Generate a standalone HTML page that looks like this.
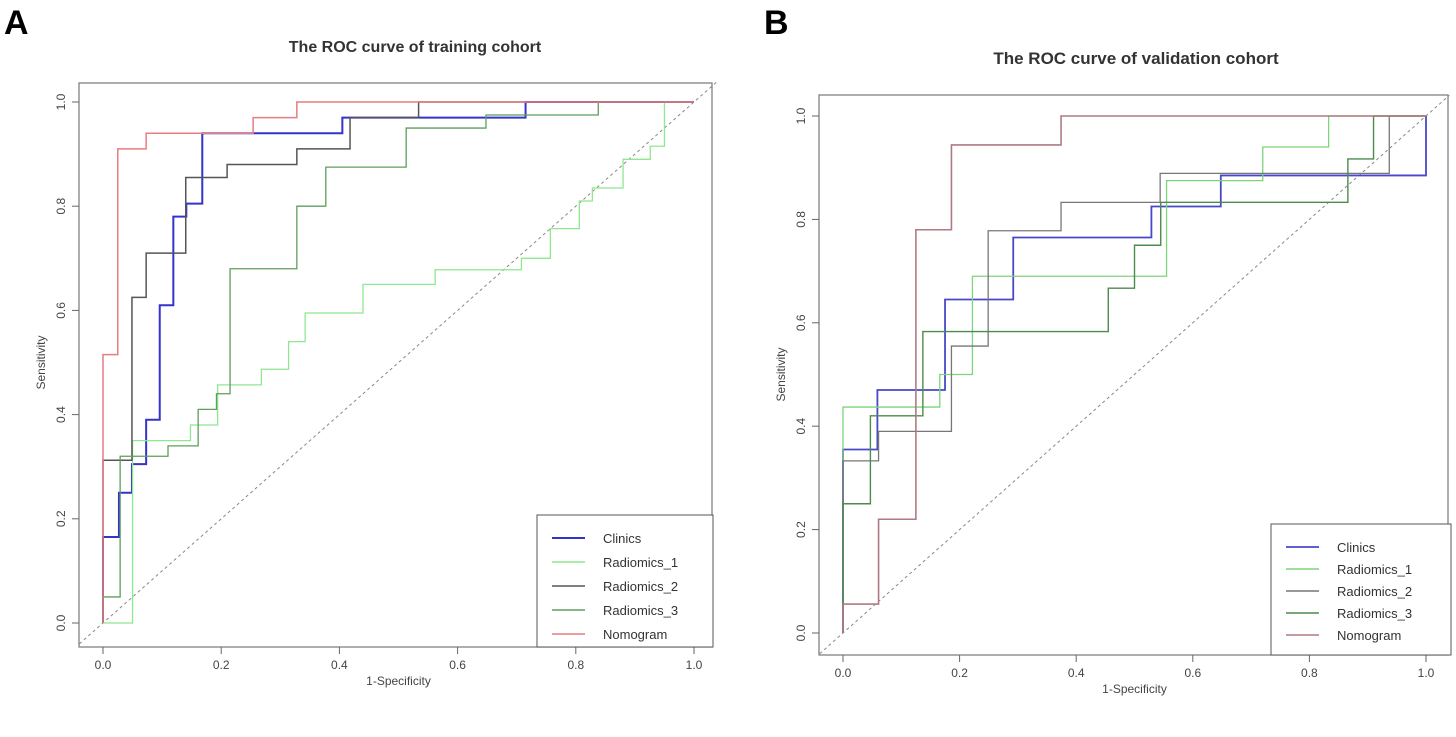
<!DOCTYPE html>
<html><head><meta charset="utf-8"><style>
body{margin:0;background:#fff;width:1456px;height:737px;overflow:hidden;font-family:"Liberation Sans",sans-serif}
svg{position:absolute;left:0;top:0}
</style></head><body>
<svg id="s" width="1456" height="737" font-family="Liberation Sans, sans-serif"></svg>
<script>
// Panel A data (training)
const aClinFpr=[0,0,0.027,0.027,0.049,0.049,0.073,0.073,0.096,0.096,0.119,0.119,0.141,0.141,0.168,0.168,0.405,0.405,0.715,0.715,1];
const aClinTpr=[0,0.165,0.165,0.25,0.25,0.305,0.305,0.39,0.39,0.61,0.61,0.78,0.78,0.805,0.805,0.94,0.94,0.97,0.97,1,1];
const aR1Fpr=[0,0.05,0.05,0.148,0.148,0.194,0.194,0.268,0.268,0.314,0.314,0.342,0.342,0.44,0.44,0.562,0.562,0.708,0.708,0.757,0.757,0.806,0.806,0.828,0.828,0.88,0.88,0.926,0.926,0.95,0.95,1];
const aR1Tpr=[0,0,0.35,0.35,0.38,0.38,0.457,0.457,0.487,0.487,0.54,0.54,0.595,0.595,0.65,0.65,0.678,0.678,0.70,0.70,0.757,0.757,0.81,0.81,0.835,0.835,0.89,0.89,0.915,0.915,1,1];
const aR2Fpr=[0,0,0.049,0.049,0.073,0.073,0.14,0.14,0.21,0.21,0.328,0.328,0.418,0.418,0.534,0.534,1];
const aR2Tpr=[0,0.3125,0.3125,0.625,0.625,0.71,0.71,0.855,0.855,0.88,0.88,0.91,0.91,0.97,0.97,1,1];
const aR3Fpr=[0,0,0.029,0.029,0.11,0.11,0.161,0.161,0.192,0.192,0.215,0.215,0.328,0.328,0.377,0.377,0.513,0.513,0.648,0.648,0.838,0.838,1];
const aR3Tpr=[0,0.05,0.05,0.32,0.32,0.34,0.34,0.41,0.41,0.44,0.44,0.68,0.68,0.80,0.80,0.875,0.875,0.95,0.95,0.975,0.975,1,1];
const aNomFpr=[0,0,0.025,0.025,0.073,0.073,0.254,0.254,0.328,0.328,1];
const aNomTpr=[0,0.515,0.515,0.91,0.91,0.94,0.94,0.97,0.97,1,1];
// Panel B data (validation)
const bClinFpr=[0,0,0.059,0.059,0.175,0.175,0.292,0.292,0.529,0.529,0.648,0.648,1,1];
const bClinTpr=[0,0.355,0.355,0.47,0.47,0.645,0.645,0.765,0.765,0.825,0.825,0.885,0.885,1];
const bR1Fpr=[0,0,0.166,0.166,0.222,0.222,0.555,0.555,0.72,0.72,0.833,0.833,1];
const bR1Tpr=[0,0.437,0.437,0.5,0.5,0.69,0.69,0.875,0.875,0.94,0.94,1,1];
const bR2Fpr=[0,0,0.061,0.061,0.186,0.186,0.249,0.249,0.374,0.374,0.544,0.544,0.937,0.937,1];
const bR2Tpr=[0,0.333,0.333,0.39,0.39,0.555,0.555,0.778,0.778,0.833,0.833,0.889,0.889,1,1];
const bR3Fpr=[0,0,0.047,0.047,0.137,0.137,0.455,0.455,0.5,0.5,0.545,0.545,0.866,0.866,0.91,0.91,1];
const bR3Tpr=[0,0.25,0.25,0.42,0.42,0.583,0.583,0.667,0.667,0.75,0.75,0.833,0.833,0.917,0.917,1,1];
const bNomFpr=[0,0,0.061,0.061,0.125,0.125,0.186,0.186,0.374,0.374,1];
const bNomTpr=[0,0.056,0.056,0.22,0.22,0.78,0.78,0.944,0.944,1,1];
const tickLabels=["0.0","0.2","0.4","0.6","0.8","1.0"];
const tickVals=[0,0.2,0.4,0.6,0.8,1];
const legendNames=["Clinics","Radiomics_1","Radiomics_2","Radiomics_3","Nomogram"];

const NS="http://www.w3.org/2000/svg";
const svg=document.getElementById('s');
function mk(tag,attrs,parent){const e=document.createElementNS(NS,tag);for(const k in attrs)e.setAttribute(k,attrs[k]);(parent||svg).appendChild(e);return e;}

function panel(cfg){
  const g=mk('g',{});
  
  
  const sx=v=>cfg.x0+v*(cfg.x1-cfg.x0);
  const sy=v=>cfg.y0+v*(cfg.y1-cfg.y0);
  const letter=mk('text',{x:cfg.lx,y:34,'font-size':34,'font-weight':'bold',fill:'#000'},g);
  letter.textContent=cfg.letter;
  
  
  const t=mk('text',{x:cfg.tx,y:cfg.ty,'font-size':cfg.tfs,'font-weight':'bold','text-anchor':'middle',fill:'#333'},g);
  t.textContent=cfg.title;
  
  
  const box=mk('rect',{x:cfg.bx0,y:cfg.by0,width:cfg.bx1-cfg.bx0,height:cfg.by1-cfg.by0,fill:'none',stroke:'#777','stroke-width':1.2},g);
  
  
  tickVals.forEach((v,i)=>{
    mk('line',{x1:sx(v),x2:sx(v),y1:cfg.by1,y2:cfg.by1+7,stroke:'#666'},g);
    const xl=mk('text',{x:sx(v),y:cfg.by1+22,'font-size':12,'text-anchor':'middle',fill:'#444'},g);
    xl.textContent=tickLabels[i];
    
    
    mk('line',{x1:cfg.bx0,x2:cfg.bx0-7,y1:sy(v),y2:sy(v),stroke:'#666'},g);
    const yl=mk('text',{x:cfg.bx0-14,y:sy(v),'font-size':12,'text-anchor':'middle',fill:'#444',transform:`rotate(-90 ${cfg.bx0-14} ${sy(v)})`},g);
    yl.textContent=tickLabels[i];
    
    
  });
  const xt=mk('text',{x:(sx(0)+sx(1))/2,y:cfg.by1+38,'font-size':12,'text-anchor':'middle',fill:'#444'},g);
  xt.textContent='1-Specificity';
  
  
  const yx=cfg.bx0-34, ym=(sy(0)+sy(1))/2;
  const yt=mk('text',{x:yx,y:ym,'font-size':12,'text-anchor':'middle',fill:'#444',transform:`rotate(-90 ${yx} ${ym})`},g);
  yt.textContent='Sensitivity';
  
  
  const d=mk('line',{x1:sx(-0.04),y1:sy(-0.04),x2:sx(1.04),y2:sy(1.04),stroke:'#888','stroke-dasharray':'3,3','stroke-width':1},g);
  
  
  cfg.series.forEach(s=>{
    const pts=s.f.map((f,i)=>sx(f)+','+sy(s.t[i])).join(' ');
    const p=mk('polyline',{points:pts,fill:'none',stroke:s.c,'stroke-width':s.w},g);
    
    
  });
  const lg=mk('g',{},g);
  
  
  mk('rect',{x:cfg.lgx,y:cfg.lgy,width:cfg.lgw,height:cfg.lgh,fill:'#fff',stroke:'#555','stroke-width':1},lg);
  cfg.series.forEach((s,i)=>{
    const yy=cfg.lgy+cfg.lgy0+i*cfg.lgdy;
    mk('line',{x1:cfg.lgx+15,x2:cfg.lgx+48,y1:yy,y2:yy,stroke:s.c,'stroke-width':Math.max(1.5,s.w)},lg);
    const lt=mk('text',{x:cfg.lgx+66,y:yy+5,'font-size':13,fill:'#333'},lg);
    lt.textContent=legendNames[i];
    
    
  });
}
panel({name:'panel-a-training',letter:'A',lx:4,title:'The ROC curve of training cohort',tx:415,ty:52,tfs:16,
  bx0:79,bx1:712,by0:83,by1:647,x0:103,x1:694,y0:623,y1:102,
  lgx:537,lgy:515,lgw:176,lgh:132,lgy0:23,lgdy:24,
  series:[{n:'Clinics',f:aClinFpr,t:aClinTpr,c:'#3434c8',w:2},
    {n:'Radiomics_1',f:aR1Fpr,t:aR1Tpr,c:'#8fe88f',w:1.3},
    {n:'Radiomics_2',f:aR2Fpr,t:aR2Tpr,c:'#555',w:1.5},
    {n:'Radiomics_3',f:aR3Fpr,t:aR3Tpr,c:'#5e9e5e',w:1.3},
    {n:'Nomogram',f:aNomFpr,t:aNomTpr,c:'#e87c84',w:1.5}]});
panel({name:'panel-b-validation',letter:'B',lx:764,title:'The ROC curve of validation cohort',tx:1136,ty:64,tfs:17,
  bx0:819,bx1:1448,by0:95,by1:655,x0:843,x1:1426,y0:633,y1:116,
  lgx:1271,lgy:524,lgw:180,lgh:131,lgy0:23,lgdy:22,
  series:[{n:'Clinics',f:bClinFpr,t:bClinTpr,c:'#4848c8',w:1.8},
    {n:'Radiomics_1',f:bR1Fpr,t:bR1Tpr,c:'#7cd47c',w:1.3},
    {n:'Radiomics_2',f:bR2Fpr,t:bR2Tpr,c:'#777',w:1.3},
    {n:'Radiomics_3',f:bR3Fpr,t:bR3Tpr,c:'#4d8a4d',w:1.4},
    {n:'Nomogram',f:bNomFpr,t:bNomTpr,c:'#b07a82',w:1.6}]});
</script>
</body></html>
